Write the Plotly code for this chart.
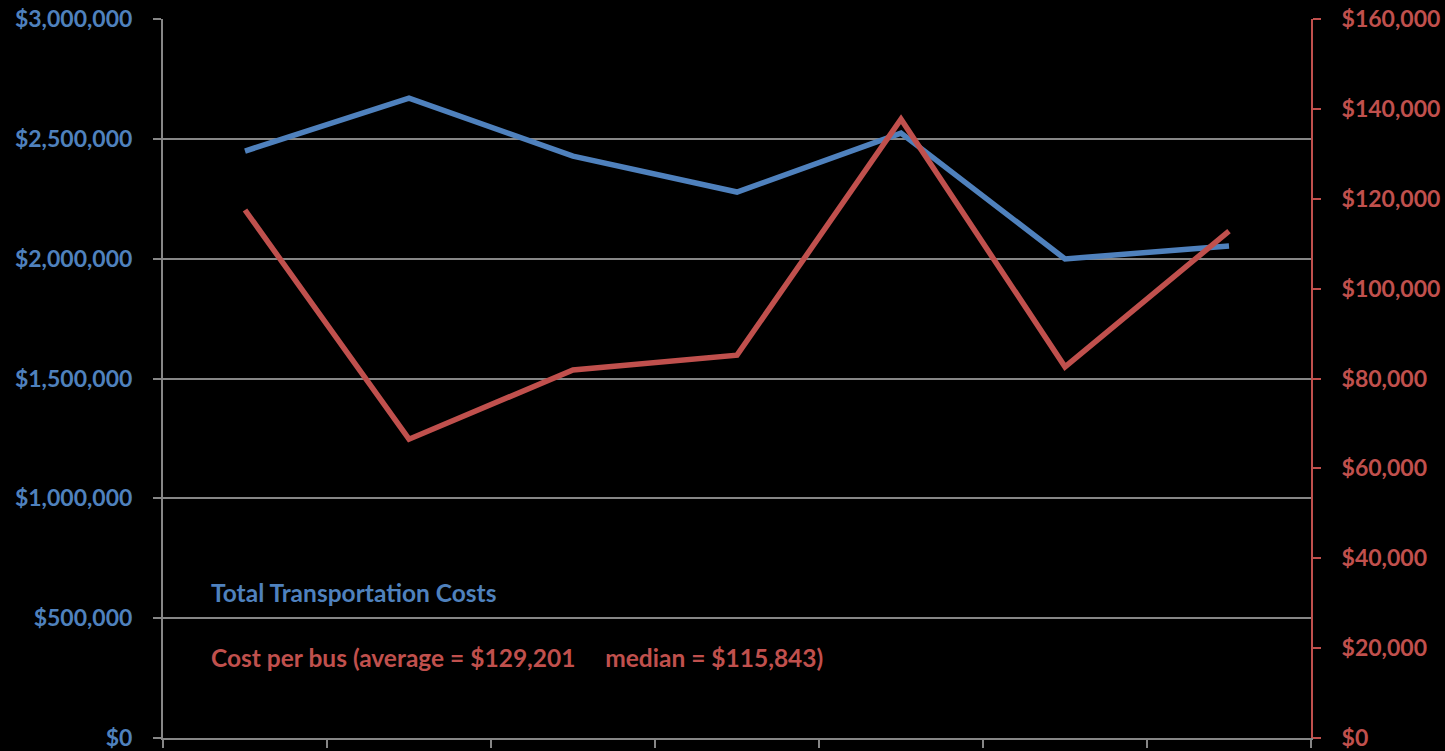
import plotly.graph_objects as go

categories = [1, 2, 3, 4, 5, 6, 7]
total_costs = [2449000, 2670000, 2428000, 2278000, 2524000, 1999000, 2053000]
cost_per_bus = [117500, 66500, 81900, 85200, 137700, 82600, 112800]
left_ticks = [0, 500000, 1000000, 1500000, 2000000, 2500000, 3000000]
left_labels = ["$0", "$500,000", "$1,000,000", "$1,500,000", "$2,000,000", "$2,500,000", "$3,000,000"]
right_ticks = [0, 20000, 40000, 60000, 80000, 100000, 120000, 140000, 160000]
right_labels = ["$0", "$20,000", "$40,000", "$60,000", "$80,000", "$100,000", "$120,000", "$140,000", "$160,000"]
x_bounds = [0.5, 1.5, 2.5, 3.5, 4.5, 5.5, 6.5, 7.5]

BLUE = "#4F81BD"
RED = "#C0504D"
GRID = "#868686"
FONT = "Lato"
TICK_SIZE = 23
NOTE_SIZE = 24.5

fig = go.Figure()
fig.add_trace(go.Scatter(x=categories, y=total_costs, mode="lines",
                         line=dict(color=BLUE, width=5.5), name="Total Transportation Costs"))
fig.add_trace(go.Scatter(x=categories, y=cost_per_bus, mode="lines", yaxis="y2",
                         line=dict(color=RED, width=5.5), name="Cost per bus"))

fig.update_layout(
    width=1445, height=751, autosize=False,
    paper_bgcolor="black", plot_bgcolor="black",
    margin=dict(l=163, r=134, t=19, b=13, autoexpand=False),
    showlegend=False,
    font=dict(family=FONT, size=20),
    xaxis=dict(range=[0.5, 7.5], tickvals=x_bounds, ticktext=[""] * len(x_bounds),
               showgrid=False, zeroline=False, showline=True, linecolor=GRID, linewidth=2,
               ticks="outside", ticklen=8, tickcolor=GRID, tickwidth=2),
    yaxis=dict(range=[0, 3000000], tickvals=left_ticks, ticktext=left_labels,
               showgrid=True, gridcolor=GRID, gridwidth=2, zeroline=False,
               showline=True, linecolor=GRID, linewidth=2,
               ticks="outside", ticklen=8, tickcolor=GRID, tickwidth=2,
               tickfont=dict(family=FONT, size=TICK_SIZE, color=BLUE, weight="bold"),
               ticklabelstandoff=16, ticklabeloverflow="allow"),
    yaxis2=dict(range=[0, 160000], tickvals=right_ticks, ticktext=right_labels,
                overlaying="y", side="right", showgrid=False, zeroline=False,
                showline=True, linecolor=RED, linewidth=2,
                ticks="outside", ticklen=8, tickcolor=RED, tickwidth=2,
                tickfont=dict(family=FONT, size=TICK_SIZE, color=RED, weight="bold"),
                ticklabelstandoff=16, ticklabeloverflow="allow"),
    annotations=[
        dict(xref="paper", yref="paper", x=(209 - 163) / 1148, y=(738 - 592) / 719,
             xanchor="left", yanchor="middle", showarrow=False,
             text="Total Transportation Costs",
             font=dict(family=FONT, size=NOTE_SIZE, color=BLUE, weight="bold")),
        dict(xref="paper", yref="paper", x=(209 - 163) / 1148, y=(738 - 657) / 719,
             xanchor="left", yanchor="middle", showarrow=False,
             text="Cost per bus (average = $129,201\u00a0\u00a0\u00a0\u00a0\u00a0median = $115,843)",
             font=dict(family=FONT, size=NOTE_SIZE, color=RED, weight="bold")),
    ],
)

fig.write_html("out.html", config={"displayModeBar": False})

with open("out.html", "r", encoding="utf-8") as f:
    html = f.read()
html = html.replace("<head>", "<head><style>html,body{margin:0;padding:0;background:#000;overflow:hidden;}</style>", 1)
with open("out.html", "w", encoding="utf-8") as f:
    f.write(html)
